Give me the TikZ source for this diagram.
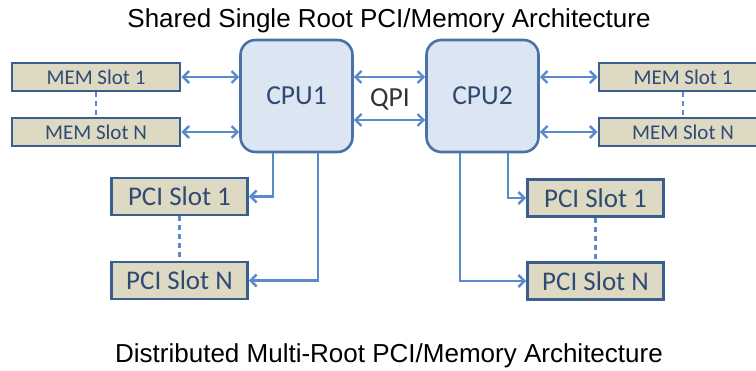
\documentclass[tikz,border=0pt]{standalone}
\usepackage{fontspec}
\setmainfont{Liberation Sans}
\newfontfamily\carlito{Carlito}
\usetikzlibrary{arrows.meta,calc}
\definecolor{boxfill}{HTML}{DDD9C3}
\definecolor{boxborder}{HTML}{3A5F8F}
\definecolor{boxtext}{HTML}{2F4B73}
\definecolor{cpufill}{HTML}{DCE6F2}
\definecolor{cpuborder}{HTML}{4A72A6}
\definecolor{linkblue}{HTML}{5B8ACB}
\definecolor{qpitext}{HTML}{333333}
\begin{document}
\begin{tikzpicture}[x=1pt,y=-1pt,
  memslot/.style={draw=boxborder, fill=boxfill, line width=2.8pt, minimum width=168pt, minimum height=28pt, inner sep=0pt, text=boxtext, font=\carlito\fontsize{21}{21}\selectfont},
  pcislot/.style={draw=boxborder, fill=boxfill, line width=2.8pt, minimum width=136pt, minimum height=37pt, inner sep=0pt, text=boxtext, font=\carlito\fontsize{27}{27}\selectfont},
  cpubox/.style={draw=cpuborder, fill=cpufill, line width=2.6pt, rounded corners=15pt, minimum width=112pt, minimum height=112pt, inner sep=0pt, text=boxtext, font=\carlito\fontsize{27.5}{27.5}\selectfont},
  link/.style={draw=linkblue, line width=2.4pt, arrows={-Straight Barb[length=6pt,width=12pt]}},
  dlink/.style={draw=linkblue, line width=2.4pt, arrows={Straight Barb[length=6pt,width=12pt]-Straight Barb[length=6pt,width=12pt]}},
  dashlink/.style={draw=linkblue, line width=2.4pt, dash pattern=on 5pt off 4pt},
  titletext/.style={anchor=base, inner sep=0pt, font=\fontsize{26}{26}\selectfont, text=black}]
\clip (0,0) rectangle (756,371);
\fill[white] (0,0) rectangle (756,371);

\node[titletext] (t1) at (389,28) {Shared Single Root PCI/Memory Architecture};
\node[titletext] (t2) at (389,363) {Distributed Multi-Root PCI/Memory Architecture};

\node[cpubox] (cpu1) at (296.5,96) {CPU1};
\node[cpubox] (cpu2) at (482.5,96) {CPU2};

\node[memslot] (memL1) at (96,77) {MEM Slot 1};
\node[memslot] (memLN) at (96,132) {MEM Slot N};
\node[memslot] (memR1) at (683,77) {MEM Slot 1};
\node[memslot] (memRN) at (683,132) {MEM Slot N};

\node[pcislot] (pciL1) at (179.5,196.5) {PCI Slot 1};
\node[pcislot] (pciLN) at (179.5,280.5) {PCI Slot N};
\node[pcislot] (pciR1) at (595.5,198) {PCI Slot 1};
\node[pcislot] (pciRN) at (595.5,281) {PCI Slot N};

\node[inner sep=0pt, text=qpitext, font=\carlito\fontsize{27.5}{27.5}\selectfont] (qpi) at (390,99) {QPI};

% memory links
\draw[dlink] (memL1.east) -- (memL1.east -| cpu1.west);
\draw[dlink] (memLN.east) -- (memLN.east -| cpu1.west);
\draw[dlink] (memR1.west) -- (memR1.west -| cpu2.east);
\draw[dlink] (memRN.west) -- (memRN.west -| cpu2.east);

% QPI links
\draw[dlink] ([yshift=19pt]cpu1.east) -- ([yshift=19pt]cpu2.west);
\draw[dlink] ([yshift=-24pt]cpu1.east) -- ([yshift=-24pt]cpu2.west);

% PCI links
\draw[link] ([xshift=-23.5pt]cpu1.south) |- (pciL1.east);
\draw[link] ([xshift=21.5pt]cpu1.south) |- (pciLN.east);
\draw[link] ([xshift=25.5pt]cpu2.south) |- (pciR1.west);
\draw[link] ([xshift=-22.5pt]cpu2.south) |- (pciRN.west);

% dashed ellipsis
\draw[dashlink] (memL1.south) -- (memLN.north);
\draw[dashlink] (memR1.south) -- (memRN.north);
\draw[dashlink] (pciL1.south) -- (pciLN.north);
\draw[dashlink] (pciR1.south) -- (pciRN.north);
\end{tikzpicture}
\end{document}
